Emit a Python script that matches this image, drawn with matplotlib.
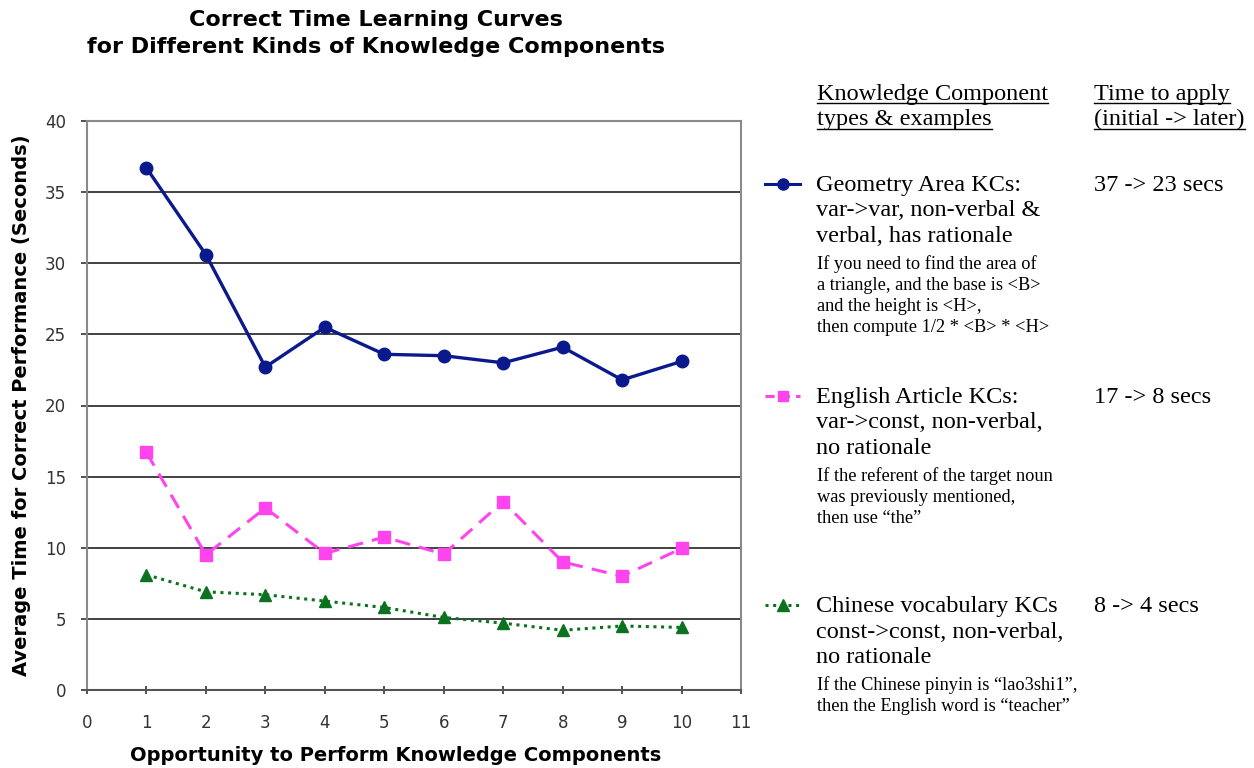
import matplotlib.pyplot as plt
from matplotlib.lines import Line2D

# data
opportunity = [1, 2, 3, 4, 5, 6, 7, 8, 9, 10]
geometry = [36.7, 30.6, 22.7, 25.5, 23.6, 23.5, 23.0, 24.1, 21.8, 23.1]
english = [16.7, 9.5, 12.8, 9.6, 10.75, 9.55, 13.25, 9.0, 8.0, 9.95]
chinese = [8.1, 6.9, 6.7, 6.25, 5.8, 5.1, 4.7, 4.2, 4.5, 4.4]

kc_types = [["Geometry Area KCs:", "var->var, non-verbal &", "verbal, has rationale"],
            ["English Article KCs:", "var->const, non-verbal,", "no rationale"],
            ["Chinese vocabulary KCs", "const->const, non-verbal,", "no rationale"]]
kc_examples = [["If you need to find the area of", "a triangle, and the base is <B>",
                "and the height is <H>,", "then compute 1/2 * <B> * <H>"],
               ["If the referent of the target noun", "was previously mentioned,",
                "then use \u201cthe\u201d"],
               ["If the Chinese pinyin is \u201clao3shi1\u201d,",
                "then the English word is \u201cteacher\u201d"]]
kc_times = ["37 -> 23 secs", "17 -> 8 secs", "8 -> 4 secs"]

W, H = 1254, 768
fig = plt.figure(figsize=(W / 100, H / 100), dpi=100)


def px(x, y):
    return x / W, 1 - y / H


ax = fig.add_axes([87 / W, 1 - 690 / H, (741 - 87) / W, (690 - 121) / H])

blue = '#0a1a8c'
pink = '#ff44ee'
green = '#0b7320'
ax.plot(opportunity, geometry, color=blue, lw=2.4, marker='o', ms=9)
ax.plot(opportunity, english, color=pink, lw=2.2, ls=(0, (5, 3)), marker='s', ms=8.5)
ax.plot(opportunity, chinese, color=green, lw=2.2, ls=(0, (1, 1.5)), marker='^', ms=9)

ax.set_xlim(0, 11)
ax.set_ylim(0, 40)
ax.set_xticks(range(0, 12))
ax.set_yticks(range(0, 41, 5))
ax.yaxis.grid(True, color='#333333', lw=1.3)
ax.set_axisbelow(True)
for s in ax.spines.values():
    s.set_color('#8a8a8a')
    s.set_linewidth(1.5)
ax.spines['bottom'].set_color('#555555')
ax.tick_params(labelsize=12, colors='#444444', labelcolor='#333333', width=1.3)
ax.tick_params(axis='y', length=4, direction='out', pad=11)
ax.tick_params(axis='x', length=6, direction='inout', pad=14)
ax.set_xlabel('Opportunity to Perform Knowledge Components', fontsize=14,
              fontweight='bold')
ax.xaxis.set_label_coords(0.472, -0.098)
ax.set_ylabel('Average Time for Correct Performance (Seconds)', fontsize=14,
              fontweight='bold', labelpad=10)

fig.text(*px(376, 26), 'Correct Time Learning Curves', ha='center', va='baseline',
         fontsize=16, fontweight='bold')
fig.text(*px(376, 53), 'for Different Kinds of Knowledge Components', ha='center',
         va='baseline', fontsize=16, fontweight='bold')

serif = 'Liberation Serif'
big = 17.5
small = 13.2


def line_text(x, y, s, size, underline=False):
    t = fig.text(*px(x, y), s, ha='left', va='baseline', fontsize=size, family=serif)
    if underline:
        fig.canvas.draw()
        bb = t.get_window_extent(fig.canvas.get_renderer())
        fig.add_artist(Line2D([bb.x0 / W, bb.x1 / W], [1 - (y + 3) / H] * 2,
                              color='black', lw=1))
    return t


line_text(817, 100, 'Knowledge Component', big, True)
line_text(817, 125.5, 'types & examples', big, True)
line_text(1094, 100, 'Time to apply', big, True)
line_text(1094, 125.5, '(initial -> later)', big, True)

bases = [191, 403, 612]
handles = [dict(color=blue, marker='o', ls='-', ms=8),
           dict(color=pink, marker='s', ls=(0, (3, 2)), ms=7.5),
           dict(color=green, marker='^', ls=(0, (1, 1.5)), ms=8)]
for b, kind, ex, tm, h in zip(bases, kc_types, kc_examples, kc_times, handles):
    for i, s in enumerate(kind):
        line_text(816, b + i * 25.5, s, big)
    for i, s in enumerate(ex):
        line_text(817, b + 78 + i * 21, s, small)
    line_text(1094, b, tm, big)
    lx0, ly = px(765, b - 7)
    lx1, _ = px(800, b - 7)
    fig.add_artist(Line2D([lx0, lx1], [ly, ly], lw=2.2, color=h['color'], ls=h['ls']))
    fig.add_artist(Line2D([(lx0 + lx1) / 2], [ly], color=h['color'], marker=h['marker'],
                          ms=h['ms'], ls='none'))

fig.savefig('out.png', dpi=100)
